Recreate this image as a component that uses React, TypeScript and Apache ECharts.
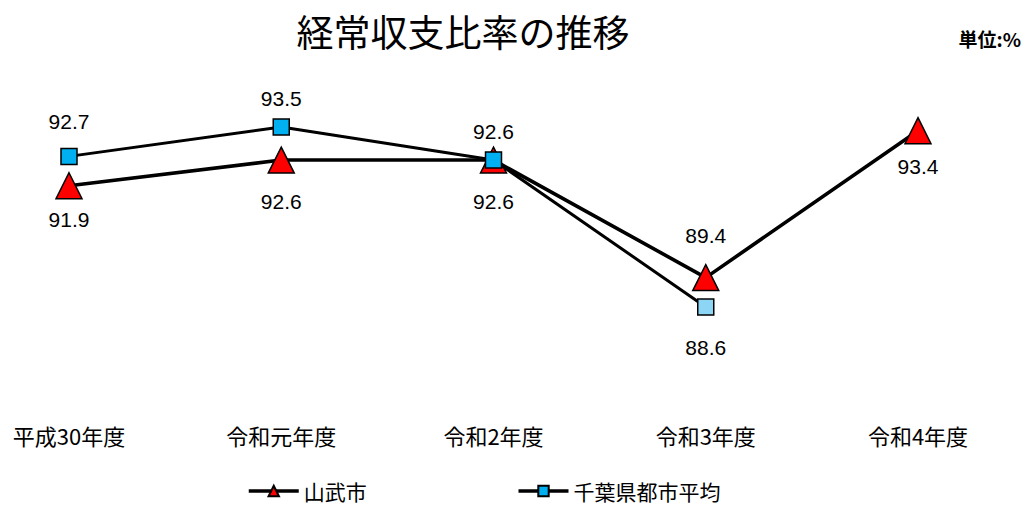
import React, { useEffect, useRef } from "react";
import * as echarts from "echarts";

const categories = ["平成30年度", "令和元年度", "令和2年度", "令和3年度", "令和4年度"];
const sanmuValues = [91.9, 92.6, 92.6, 89.4, 93.4];
const chibaValues: (number | null)[] = [92.7, 93.5, 92.6, 88.6, null];

// vertical offsets of each value label from its marker
const sanmuLabelDy = [34, 41, 41, -42, 36];
const chibaLabelDy = [-35, -29, -29, 41, 0];

const labelFont = {
  fontFamily: "'Liberation Sans', Arial, sans-serif",
  fontSize: 21,
  color: "#000",
};
const jpFont = "'Noto Sans CJK JP', sans-serif";

export default function App() {
  const ref = useRef<HTMLDivElement>(null);

  useEffect(() => {
    if (!ref.current) return;
    const chart = echarts.init(ref.current, undefined, { renderer: "svg" });

    const sanmuData = sanmuValues.map((v, i) => ({
      value: v,
      label: { offset: [0, sanmuLabelDy[i]] },
    }));
    const chibaData = chibaValues.map((v, i) => ({
      value: v,
      label: { offset: [0, chibaLabelDy[i]] },
      itemStyle: i === 3 ? { color: "#8DD5F5" } : undefined,
    }));

    chart.setOption({
      animation: false,
      backgroundColor: "#fff",
      title: [
        {
          text: "経常収支比率の推移",
          left: 458,
          top: 7,
          textAlign: "center",
          textStyle: { fontFamily: jpFont, fontSize: 37, fontWeight: "normal", color: "#000" },
        },
        {
          text: "単位:%",
          right: 8,
          top: 24,
          textStyle: { fontFamily: jpFont, fontSize: 19, fontWeight: "bold", color: "#000" },
        },
      ],
      legend: {
        left: 247,
        top: 480,
        padding: 0,
        itemWidth: 50,
        itemHeight: 13,
        itemGap: 150,
        lineStyle: { width: 3.5, color: "#000" },
        textStyle: { fontFamily: jpFont, fontSize: 21, lineHeight: 22, color: "#000" },
        data: ["山武市", "千葉県都市平均"],
      },
      grid: { left: 69, right: 116, top: 71.9, bottom: 104.5 },
      xAxis: {
        type: "category",
        data: categories,
        boundaryGap: false,
        axisLine: { show: false },
        axisTick: { show: false },
        splitLine: { show: false },
        axisLabel: {
          margin: 21,
          fontFamily: jpFont,
          fontSize: 22,
          color: "#000",
        },
      },
      yAxis: {
        type: "value",
        min: 86,
        max: 95,
        show: false,
      },
      series: [
        {
          name: "山武市",
          type: "line",
          data: sanmuData,
          symbol: "triangle",
          symbolSize: 26,
          itemStyle: { color: "#FF0000", borderColor: "#000", borderWidth: 1.5 },
          lineStyle: { color: "#000", width: 3.6 },
          label: { show: true, position: "inside", ...labelFont },
          z: 2,
        },
        {
          name: "千葉県都市平均",
          type: "line",
          data: chibaData,
          symbol: "rect",
          symbolSize: 16,
          itemStyle: { color: "#00B0F0", borderColor: "#000", borderWidth: 1.5 },
          lineStyle: { color: "#000", width: 3 },
          label: { show: true, position: "inside", ...labelFont },
          z: 3,
        },
      ],
    });

    return () => chart.dispose();
  }, []);

  return (
    <div
      ref={ref}
      style={{ position: "fixed", left: 0, top: 0, width: 1034, height: 507 }}
    />
  );
}
